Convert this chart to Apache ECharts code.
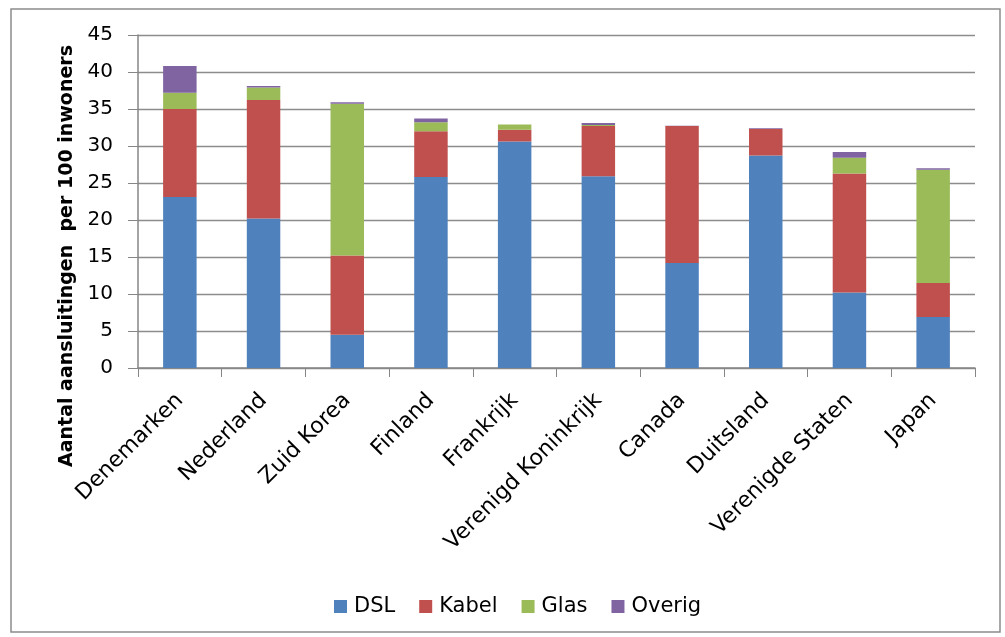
<!DOCTYPE html>
<html>
<head>
<meta charset="utf-8">
<script src="https://cdn.jsdelivr.net/npm/echarts@6/dist/echarts.min.js"></script>
<style>
  html, body { margin: 0; padding: 0; background: #fff; }
  #chart { width: 1005px; height: 637px; }
</style>
</head>
<body>
<div id="chart"></div>
<script>
/* categories */
const landen = ['Denemarken', 'Nederland', 'Zuid Korea', 'Finland', 'Frankrijk',
  'Verenigd Koninkrijk', 'Canada', 'Duitsland', 'Verenigde Staten', 'Japan'];

/* values per 100 inwoners */
const dsl    = [23.1, 20.2, 4.5, 25.8, 30.6, 25.9, 14.2, 28.7, 10.2, 6.9];
const kabel  = [11.9, 16.0, 10.7, 6.2, 1.6, 6.8, 18.5, 3.6, 16.1, 4.6];
const glas   = [2.2, 1.7, 20.5, 1.2, 0.7, 0.15, 0.0, 0.0, 2.1, 15.3];
const overig = [3.6, 0.2, 0.2, 0.5, -0.2, 0.25, 0.05, 0.1, 0.8, 0.2];

const yTicks = [0, 5, 10, 15, 20, 25, 30, 35, 40, 45];

const kleuren = ['#4F81BD', '#C0504D', '#9BBB59', '#8064A2'];
const font = '"DejaVu Sans", "Liberation Sans", sans-serif';

function serie(name, data) {
  return {
    name: name,
    type: 'bar',
    stack: 'totaal',
    barWidth: '40%',
    data: data
  };
}

const chart = echarts.init(document.getElementById('chart'));
chart.setOption({
  animation: false,
  color: kleuren,
  textStyle: { fontFamily: font },
  graphic: [
    {
      type: 'rect',
      shape: { x: 11, y: 9, width: 989, height: 623 },
      style: { fill: 'none', stroke: '#8c8c8c', lineWidth: 1.5 },
      silent: true
    },
    {
      // y-as titel
      type: 'text',
      x: 67,
      y: 256,
      rotation: Math.PI / 2,
      style: {
        text: 'Aantal aansluitingen  per 100 inwoners',
        fontSize: 19,
        fontWeight: 'bold',
        fontFamily: font,
        fill: '#000',
        align: 'center',
        verticalAlign: 'middle'
      }
    }
  ],
  grid: {
    left: 138, right: 30, top: 35, bottom: 269,
    containLabel: false,
    outerBoundsMode: 'none'
  },
  legend: {
    top: 591,
    left: 329,
    itemWidth: 13,
    itemHeight: 13,
    itemGap: 24,
    icon: 'rect',
    textStyle: { fontSize: 21, color: '#000', fontFamily: font, padding: [0, 0, 0, 2] },
    data: ['DSL', 'Kabel', 'Glas', 'Overig']
  },
  xAxis: {
    type: 'category',
    data: landen,
    axisLine: { lineStyle: { color: '#868686', width: 1.5 } },
    axisTick: { show: true, length: 9, lineStyle: { color: '#868686' } },
    axisLabel: {
      rotate: 45,
      interval: 0,
      fontSize: 22,
      color: '#000',
      fontFamily: font,
      margin: 29
    }
  },
  yAxis: {
    type: 'value',
    min: yTicks[0],
    max: yTicks[yTicks.length - 1],
    interval: 5,
    axisLine: { show: true, lineStyle: { color: '#868686', width: 1.5 } },
    axisTick: { show: true, length: 10, lineStyle: { color: '#868686' } },
    axisLabel: { fontSize: 20, color: '#000', margin: 25, fontFamily: font },
    splitLine: { lineStyle: { color: '#8c8c8c', width: 1.3 } }
  },
  series: [
    serie('DSL', dsl),
    serie('Kabel', kabel),
    serie('Glas', glas),
    serie('Overig', overig)
  ]
});
</script>
</body>
</html>
